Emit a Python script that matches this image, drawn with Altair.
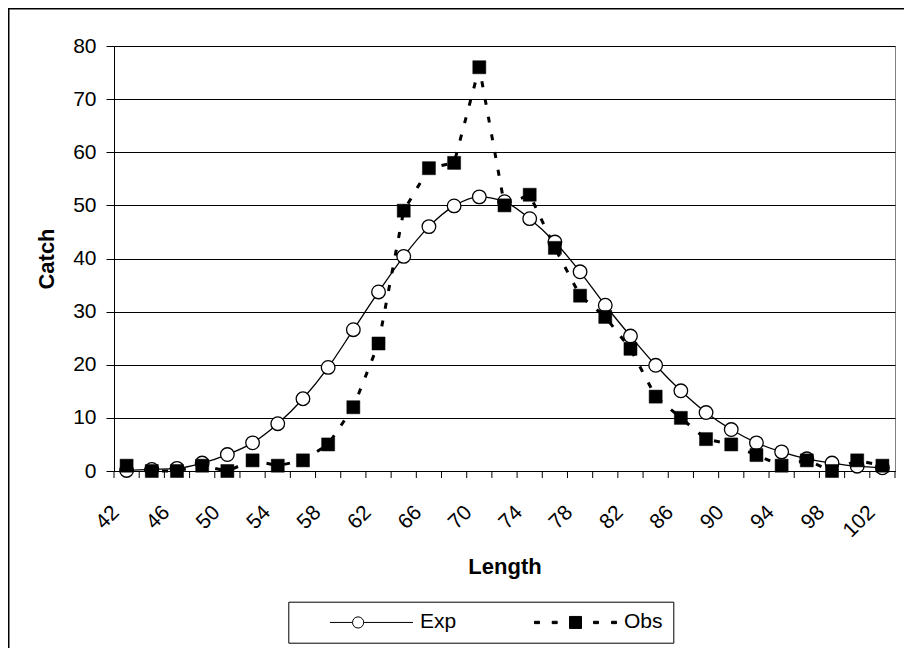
import altair as alt
import pandas as pd

# ---- data ----
lengths = [42, 44, 46, 48, 50, 52, 54, 56, 58, 60, 62, 64, 66, 68, 70,
           72, 74, 76, 78, 80, 82, 84, 86, 88, 90, 92, 94, 96, 98, 100, 102]
exp_vals = [0.1, 0.3, 0.5, 1.5, 3.1, 5.3, 8.9, 13.6, 19.5, 26.6, 33.7, 40.4, 46.0, 49.9, 51.6,
            50.7, 47.5, 43.1, 37.5, 31.2, 25.4, 19.9, 15.1, 11.0, 7.8, 5.3, 3.6, 2.3, 1.5, 0.9, 0.6]
obs_vals = [1, 0, 0, 1, 0, 2, 1, 2, 5, 12, 24, 49, 57, 58, 76,
            50, 52, 42, 33, 29, 23, 14, 10, 6, 5, 3, 1, 2, 0, 2, 1]
label_vals = [42, 46, 50, 54, 58, 62, 66, 70, 74, 78, 82, 86, 90, 94, 98, 102]
y_ticks = [0, 10, 20, 30, 40, 50, 60, 70, 80]
series_names = ["Exp", "Obs"]

df = pd.DataFrame({
    "Length": lengths * 2,
    "Catch": exp_vals + obs_vals,
    "Series": ["Exp"] * len(lengths) + ["Obs"] * len(lengths),
})
tick_df = pd.DataFrame({"b": [c - 1 for c in lengths] + [lengths[-1] + 1]})

FONT = "Liberation Sans"
W, H = 781, 425

x_scale = alt.Scale(domain=[lengths[0] - 1, lengths[-1] + 1], nice=False, zero=False)
y_scale = alt.Scale(domain=[0, 80], nice=False)

x_enc = alt.X("Length:Q", scale=x_scale, axis=alt.Axis(
    values=label_vals, labelAngle=-45, labelAlign="right", labelBaseline="middle",
    labelPadding=38, labelOffset=-11, ticks=False, tickSize=0, grid=False,
    labelFlush=False, labelOverlap=False, labelBound=False,
    domainColor="black", labelColor="black", labelFontSize=21, labelFont=FONT,
    title="Length", titleX=390.5, titleY=102, titleBaseline="alphabetic",
    titleFontSize=22, titleFont=FONT, titleFontWeight="bold", titleColor="black"))
y_enc = alt.Y("Catch:Q", scale=y_scale, axis=alt.Axis(
    values=y_ticks, tickSize=8, tickColor="black", labelPadding=10,
    grid=True, gridColor="black", gridWidth=1, domainColor="black",
    labelColor="black", labelFontSize=21, labelFont=FONT,
    title="Catch", titleX=-60.7, titleY=212.5, titleAngle=-90, titleAlign="center",
    titleBaseline="alphabetic", titleFontSize=22, titleFont=FONT,
    titleFontWeight="bold", titleColor="black"))

base = alt.Chart(df)

obs_line = base.transform_filter("datum.Series == 'Obs'").mark_line(
    color="black", strokeWidth=3, strokeDash=[6, 12], strokeCap="butt"
).encode(x=x_enc, y=y_enc)

exp_line = base.transform_filter("datum.Series == 'Exp'").mark_line(
    color="black", strokeWidth=1.3, interpolate="monotone"
).encode(x=x_enc, y=y_enc)

exp_pts = base.transform_filter("datum.Series == 'Exp'").mark_point(
    shape="circle", filled=True, fill="white", stroke="black", strokeWidth=1.3,
    size=185, opacity=1
).encode(x=x_enc, y=y_enc)

obs_pts = base.transform_filter("datum.Series == 'Obs'").mark_point(
    shape="square", filled=True, fill="black", stroke="black", strokeWidth=0.5,
    size=170, opacity=1
).encode(x=x_enc, y=y_enc)

x_ticks = alt.Chart(tick_df).mark_rule(color="black", strokeWidth=1).encode(
    x=alt.X("b:Q", scale=x_scale), y=alt.value(H), y2=alt.value(H + 7))

# legend symbols: line + marker drawn as one custom path each
exp_path = ("M-41.5,0H-19M-7.8,0H41.5"
            "M-7.8,0A5.6,5.6,0,1,1,-19,0A5.6,5.6,0,1,1,-7.8,0Z")
obs_path = ("M-41,-1.2H-36V1.2H-41Z M-23.3,-1.2H-18.3V1.2H-23.3Z "
            "M-6,-6H6V6H-6Z M18,-1.2H23V1.2H18Z M36,-1.2H41V1.2H36Z")

leg = alt.Legend(
    title=None, orient="none", legendX=174.3, legendY=555.7, direction="horizontal",
    strokeColor="black", padding=10, symbolSize=4, symbolStrokeColor="black",
    symbolStrokeWidth=1, symbolOffset=62.7, labelOffset=38, columnPadding=46,
    labelFontSize=21, labelFont=FONT, labelColor="black",
    labelExpr="datum.label == 'Obs' ? 'Obs     ' : datum.label")

legend_layer = base.transform_filter("datum.Catch < 0").mark_point(
    filled=True, stroke="black", strokeWidth=1, size=4, opacity=1
).encode(
    shape=alt.Shape("Series:N", scale=alt.Scale(domain=series_names, range=[exp_path, obs_path]), legend=leg),
    fill=alt.Fill("Series:N", scale=alt.Scale(domain=series_names, range=["white", "black"]), legend=leg),
    stroke=alt.Stroke("Series:N", scale=alt.Scale(domain=series_names, range=["black", "black"]), legend=leg),
)

frame_df = pd.DataFrame({"k": [0]})
frame_top = alt.Chart(frame_df).mark_rule(color="black", strokeWidth=1.5).encode(
    x=alt.value(-105.25), x2=alt.value(W + 20), y=alt.value(-37.25))
frame_left = alt.Chart(frame_df).mark_rule(color="black", strokeWidth=1.5).encode(
    x=alt.value(-105.25), y=alt.value(-38), y2=alt.value(H + 200))

chart = alt.layer(
    frame_top, frame_left, x_ticks, obs_line, exp_line, exp_pts, obs_pts, legend_layer
).properties(
    width=W, height=H,
    padding={"left": 106, "top": 38, "right": 9, "bottom": 177},
    autosize=alt.AutoSizeParams(type="none"),
    background="white",
).configure_view(stroke="#808080", strokeWidth=1)

chart.save("out.html", embed_options={"renderer": "svg", "actions": False})
